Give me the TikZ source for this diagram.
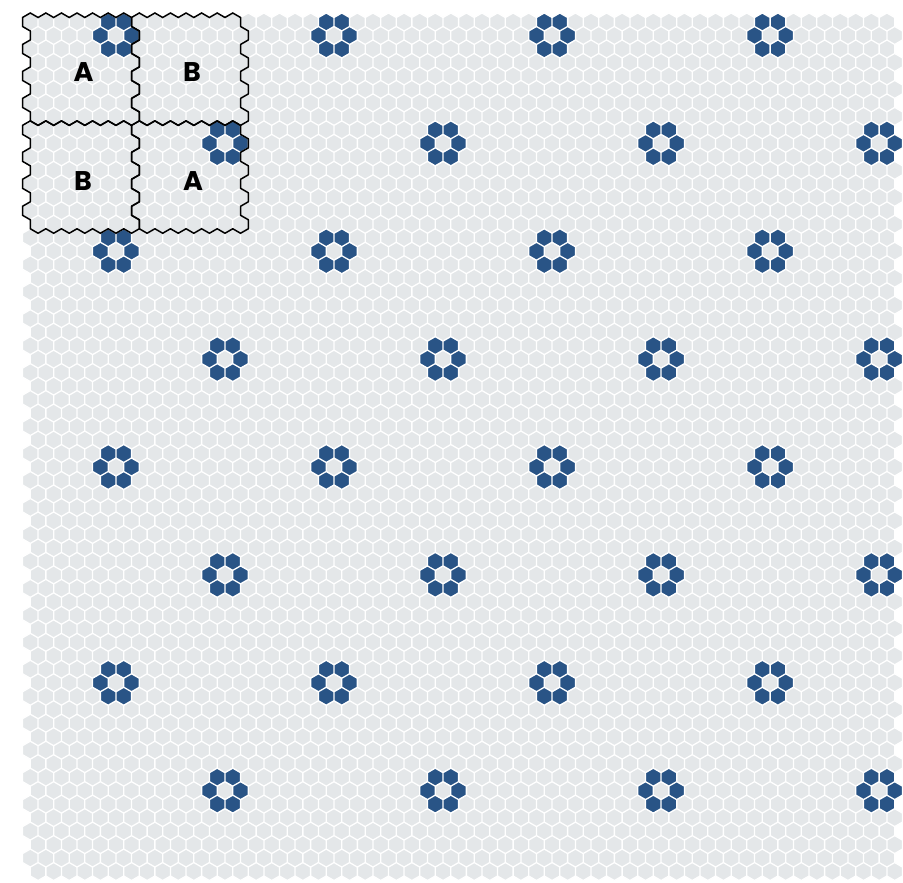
\documentclass[tikz,border=0pt]{standalone}
\usepackage{fontspec}
\newfontfamily\labelfont{Poppins}[BoldFont=* Bold]
\definecolor{tilegray}{RGB}{228,231,233}
\definecolor{tileblue}{RGB}{41,84,134}
\tikzset{
  hexbg/.style={fill=tilegray,draw=white,line width=1.3pt,line join=miter},
  hexblue/.style={fill=tileblue,draw=white,line width=1.3pt,line join=miter},
  tileline/.style={draw=black,line width=1.5pt,line join=miter},
  tilelabel/.style={font=\labelfont\bfseries\fontsize{27}{27}\selectfont,text=black,anchor=base,inner sep=0pt}
}
\newcommand{\hexat}[2]{({#1},{#2-2}) -- ++(1,1) -- ++(0,2) -- ++(-1,1) -- ++(-1,-1) -- ++(0,-2) -- cycle}
\newcommand{\tileoutline}{(0,1) -- (1,0) -- (2,1) -- (3,0) -- (4,1) -- (5,0) -- (6,1) -- (7,0) -- (8,1) -- (9,0) -- (10,1) -- (11,0) -- (12,1) -- (13,0) -- (14,1)
 -- (14,3) -- (15,4) -- (15,6) -- (14,7) -- (14,9) -- (15,10) -- (15,12) -- (14,13) -- (14,15) -- (15,16) -- (15,18) -- (14,19) -- (14,21) -- (15,22) -- (15,24)
 -- (14,25) -- (13,24) -- (12,25) -- (11,24) -- (10,25) -- (9,24) -- (8,25) -- (7,24) -- (6,25) -- (5,24) -- (4,25) -- (3,24) -- (2,25) -- (1,24)
 -- (1,22) -- (0,21) -- (0,19) -- (1,18) -- (1,16) -- (0,15) -- (0,13) -- (1,12) -- (1,10) -- (0,9) -- (0,7) -- (1,6) -- (1,4) -- (0,3) -- cycle}
\begin{document}
\begin{tikzpicture}[x=1pt,y=-1pt]
\fill[white] (0,0) rectangle (903,883);
\useasboundingbox (0,0) rectangle (903,883);
\begin{scope}[shift={(22.5,13)},x=7.7875pt,y=-4.495pt]
  % background hexagons
  \path[hexbg] \foreach \j [evaluate=\j as \Y using {int(3*\j+2)}, evaluate=\j as \off using {int(mod(\j,2)+1)}] in {0,...,63} {
    \foreach \c in {0,...,55} { \hexat{2*\c+\off}{\Y} }
  };
  % blue flowers on A tiles
  \path[hexblue] \foreach \ty [evaluate=\ty as \rowpar using {int(mod(\ty,2))}] in {0,...,7} { \foreach \k [evaluate=\k as \tx using {int(2*\k+\rowpar)}] in {0,...,3} {
      \hexat{14*\tx+11}{24*\ty+2} \hexat{14*\tx+13}{24*\ty+2}
      \hexat{14*\tx+10}{24*\ty+5} \hexat{14*\tx+14}{24*\ty+5}
      \hexat{14*\tx+11}{24*\ty+8} \hexat{14*\tx+13}{24*\ty+8}
  }};
  % tile outlines
  \foreach \tx/\ty in {0/0,1/0,0/1,1/1} {
    \begin{scope}[shift={(14*\tx,24*\ty)}]
      \draw[tileline] \tileoutline;
    \end{scope}
  }
\end{scope}
\node[tilelabel] (labA1) at (83.5,81.5) {A};
\node[tilelabel] (labB1) at (192,81.5) {B};
\node[tilelabel] (labB2) at (83,190.5) {B};
\node[tilelabel] (labA2) at (193,190.5) {A};
\end{tikzpicture}
\end{document}
